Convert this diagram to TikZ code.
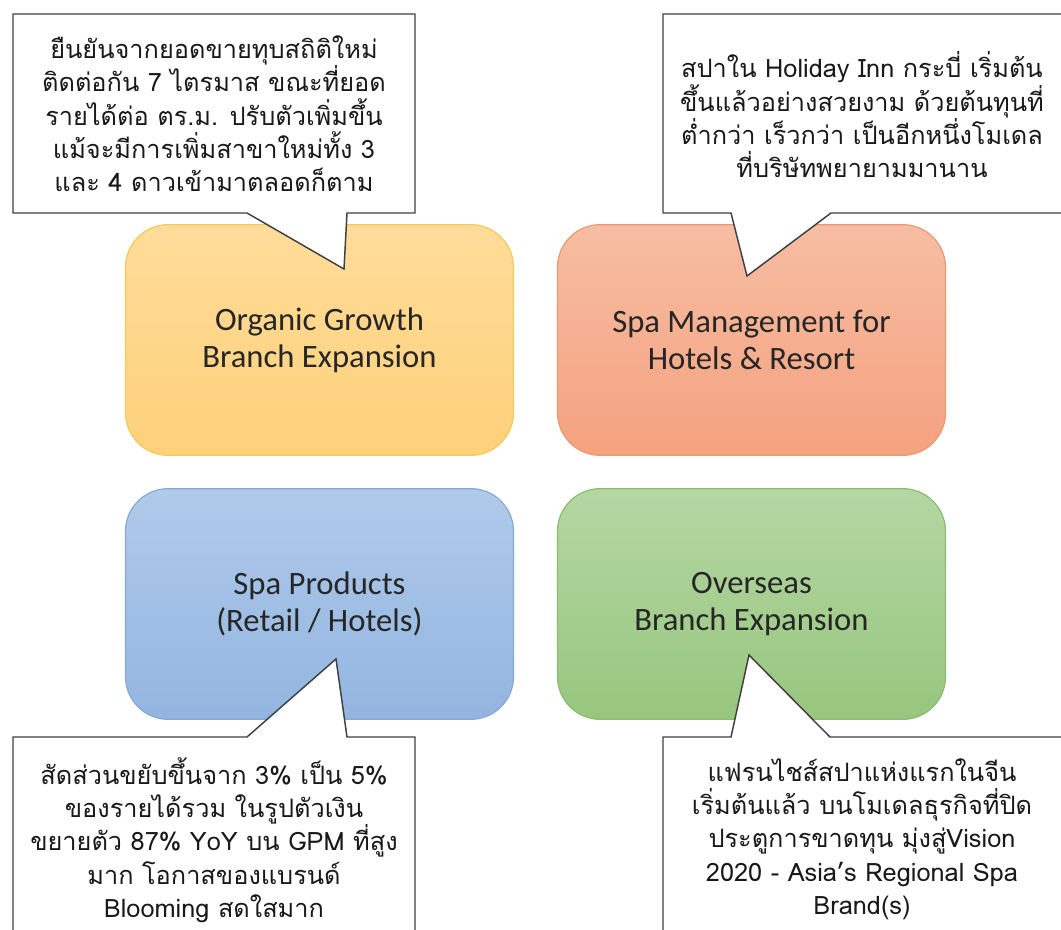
\documentclass[tikz,border=0pt]{standalone}
\usepackage{fontspec}
\setmainfont{Carlito}
\newfontfamily\thaifont[Script=Thai]{Loma}
\begin{document}
\begin{tikzpicture}[x=0.75pt,y=-0.75pt,
  card/.style={rounded corners=32pt,line width=0.9pt,minimum width=291pt,minimum height=173pt,
    align=center,font=\fontsize{24.5}{27.5}\selectfont,text=black!85},
  bubble/.style={fill=white,draw=black!75,line width=1.1pt,line join=miter},
  note/.style={align=center,font=\thaifont\fontsize{19}{25}\selectfont,text=black!90}]
\definecolor{ytop}{HTML}{FFDC9A}\definecolor{ybot}{HTML}{FED17A}\definecolor{yline}{HTML}{F3CB56}
\definecolor{otop}{HTML}{F7BDA3}\definecolor{obot}{HTML}{F4A27F}\definecolor{oline}{HTML}{EE9872}
\definecolor{btop}{HTML}{B0CAEA}\definecolor{bbot}{HTML}{92B5E0}\definecolor{bline}{HTML}{86A9D6}
\definecolor{gtop}{HTML}{B4D7A3}\definecolor{gbot}{HTML}{97C67D}\definecolor{gline}{HTML}{8DBB74}
\useasboundingbox (0,0) rectangle (1061,930);
\clip (0,0) rectangle (1061,930);
\fill[white] (0,0) rectangle (1061,930);

% four business lines
\node[card,top color=ytop,bottom color=ybot,draw=yline] (organic) at (319.5,340) {Organic Growth\\Branch Expansion};
\node[card,top color=otop,bottom color=obot,draw=oline] (mgmt) at (751.5,340) {Spa Management for\\Hotels \& Resort};
\node[card,top color=btop,bottom color=bbot,draw=bline] (products) at (319.5,604) {Spa Products\\(Retail / Hotels)};
\node[card,top color=gtop,bottom color=gbot,draw=gline] (overseas) at (751.5,604) {Overseas\\Branch Expansion};

% speech bubbles pointing into the cards
\coordinate (tipA) at (344,269);
\coordinate (tipB) at (747,276);
\coordinate (tipC) at (336,659);
\coordinate (tipD) at (749,655);
\draw[bubble] (13,14) -- (415,14) -- (415,213) -- (347,213) -- (tipA) -- (247,213) -- (13,213) -- cycle;
\draw[bubble] (663,14) -- (1075,14) -- (1075,213) -- (831,213) -- (tipB) -- (731,213) -- (663,213) -- cycle;
\draw[bubble] (13,737) -- (247,737) -- (tipC) -- (347,737) -- (415,737) -- (415,945) -- (13,945) -- cycle;
\draw[bubble] (663,737) -- (731,737) -- (tipD) -- (830,737) -- (1075,737) -- (1075,945) -- (663,945) -- cycle;

\node[note] (noteA) at (214,114) {ยืนยันจากยอดขายทุบสถิติใหม่\\ติดต่อกัน 7 ไตรมาส ขณะที่ยอด\\รายได้ต่อ ตร.ม. ปรับตัวเพิ่มขึ้น\\แม้จะมีการเพิ่มสาขาใหม่ทั้ง 3\\และ 4 ดาวเข้ามาตลอดก็ตาม};
\node[note] (noteB) at (862,115) {สปาใน Holiday Inn กระบี่ เริ่มต้น\\ขึ้นแล้วอย่างสวยงาม ด้วยต้นทุนที่\\ต่ำกว่า เร็วกว่า เป็นอีกหนึ่งโมเดล\\ที่บริษัทพยายามมานาน};
\node[note] (noteC) at (214,840) {สัดส่วนขยับขึ้นจาก 3\% เป็น 5\%\\ของรายได้รวม ในรูปตัวเงิน\\ขยายตัว 87\% YoY บน GPM ที่สูง\\มาก โอกาสของแบรนด์\\Blooming สดใสมาก};
\node[note] (noteD) at (862,839) {แฟรนไชส์สปาแห่งแรกในจีน\\เริ่มต้นแล้ว บนโมเดลธุรกิจที่ปิด\\ประตูการขาดทุน มุ่งสู่Vision\\2020 - Asia’s Regional Spa\\Brand(s)};
\end{tikzpicture}
\end{document}
